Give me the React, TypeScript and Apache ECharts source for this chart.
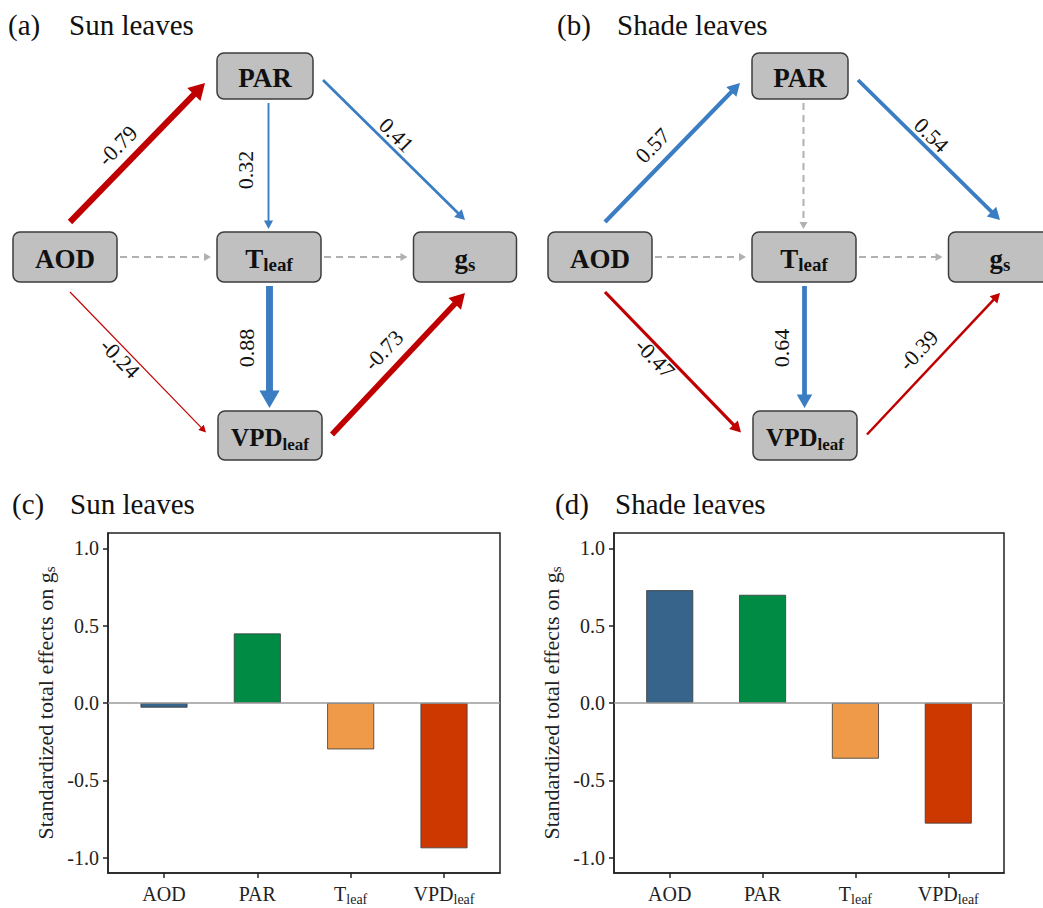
import React, { useEffect, useRef } from "react";
import * as echarts from "echarts";

// ---------------- data ----------------
const nodeIds = ["AOD", "PAR", "Tleaf", "gs", "VPDleaf"];
const edgeFrom = ["AOD", "AOD", "AOD", "PAR", "PAR", "Tleaf", "Tleaf", "VPDleaf"];
const edgeTo = ["PAR", "Tleaf", "VPDleaf", "Tleaf", "gs", "gs", "VPDleaf", "gs"];
// null = non-significant path (dashed grey)
const sunPathCoef: (number | null)[] = [-0.79, null, -0.24, 0.32, 0.41, null, 0.88, -0.73];
const shadePathCoef: (number | null)[] = [0.57, null, -0.47, null, 0.54, null, 0.64, -0.39];

const barCategories = ["AOD", "PAR", "Tleaf", "VPDleaf"];
const sunTotalEffects = [-0.03, 0.45, -0.3, -0.94];
const shadeTotalEffects = [0.73, 0.7, -0.36, -0.78];
const yTickValues = [-1.0, -0.5, 0.0, 0.5, 1.0];
const xTickValues = [1, 2, 3, 4];

const panelLetters = ["(a)", "(b)", "(c)", "(d)"];
const panelTitles = ["Sun leaves", "Shade leaves", "Sun leaves", "Shade leaves"];

// ---------------- styles / layout ----------------
const SERIF = "'Liberation Serif', 'Times New Roman', Times, serif";
const RED = "#c00000";
const BLUE = "#3a7dc2";
const GREY = "#b0b0b0";
const TEXT = "#111111";
const barColors = ["#36648b", "#008b45", "#ee9a49", "#cd3700"];

const NODE_BOX: Record<string, { cx: number; cy: number; w: number; h: number }> = {
  AOD: { cx: 65, cy: 257, w: 104, h: 50 },
  PAR: { cx: 265, cy: 76, w: 96, h: 46 },
  Tleaf: { cx: 269, cy: 257, w: 104, h: 50 },
  gs: { cx: 465, cy: 257, w: 103, h: 50 },
  VPDleaf: { cx: 270, cy: 435.5, w: 104, h: 49 },
};
const NODE_LABEL: Record<string, string> = {
  AOD: "{m|AOD}",
  PAR: "{m|PAR}",
  Tleaf: "{m|T}{s|leaf}",
  gs: "{m|g}{s|s}",
  VPDleaf: "{m2|VPD}{s2|leaf}",
};
const LABEL_SHIFT: Record<string, [number, number]> = {
  "AOD>PAR": [-20, -7],
  "PAR>Tleaf": [-23, 4],
  "PAR>gs": [2.5, -15],
  "AOD>VPDleaf": [-18, -4],
  "Tleaf>VPDleaf": [-23, 1],
  "VPDleaf>gs": [-15, -13.5],
};
const DIAGRAM_X = [0, 535];
const TITLE_POS = [
  { lx: 8, tx: 69, y: 24.5 },
  { lx: 557, tx: 617, y: 24.5 },
  { lx: 12, tx: 70, y: 504 },
  { lx: 555, tx: 615, y: 504 },
];

const nodeRich = {
  m: { fontFamily: SERIF, fontSize: 27, fontWeight: "bold", lineHeight: 30, fill: TEXT, color: TEXT },
  s: { fontFamily: SERIF, fontSize: 19, fontWeight: "bold", lineHeight: 12, verticalAlign: "bottom", fill: TEXT, color: TEXT },
  m2: { fontFamily: SERIF, fontSize: 25, fontWeight: "bold", lineHeight: 30, fill: TEXT, color: TEXT },
  s2: { fontFamily: SERIF, fontSize: 17, fontWeight: "bold", lineHeight: 11, verticalAlign: "bottom", fill: TEXT, color: TEXT },
};
const numRich = {
  n: { fontFamily: SERIF, fontSize: 22, fill: TEXT, color: TEXT, lineHeight: 24 },
};

function edgeGeom(from: string, to: string) {
  const s = NODE_BOX[from];
  const t = NODE_BOX[to];
  let x1: number, y1: number, x2: number, y2: number;
  if (Math.abs(s.cx - t.cx) < 20) {
    x1 = x2 = t.cx - 0.5;
    y1 = s.cy + s.h / 2 + 4;
    y2 = t.cy - t.h / 2 - 3;
  } else if (Math.abs(s.cy - t.cy) < 1) {
    y1 = y2 = s.cy;
    x1 = s.cx + s.w / 2 + 3;
    x2 = t.cx - t.w / 2 - 6;
  } else if (from === "AOD") {
    const up = t.cy < s.cy;
    x1 = s.cx + 5;
    y1 = up ? s.cy - s.h / 2 - 10 : s.cy + s.h / 2 + 10;
    x2 = t.cx - t.w / 2 - 12;
    y2 = t.cy + (up ? 7 : -3);
  } else {
    const down = t.cy > s.cy;
    x1 = s.cx + s.w / 2 + 10;
    y1 = s.cy + (down ? 4 : -1);
    x2 = t.cx;
    y2 = down ? t.cy - t.h / 2 - 12 : t.cy + t.h / 2 + 11;
  }
  return { x1, y1, x2, y2 };
}

function diagramGraphics(coefs: (number | null)[], ox: number) {
  const els: any[] = [];
  edgeFrom.forEach((from, i) => {
    const to = edgeTo[i];
    const c = coefs[i];
    const g = edgeGeom(from, to);
    const x1 = g.x1 + ox, x2 = g.x2 + ox, y1 = g.y1, y2 = g.y2;
    const dx = x2 - x1, dy = y2 - y1;
    const len = Math.hypot(dx, dy);
    const ux = dx / len, uy = dy / len;
    const nx = -uy, ny = ux;
    const sig = c !== null;
    const w = sig ? 9 * Math.abs(c as number) - 1 : 2;
    const color = sig ? ((c as number) < 0 ? RED : BLUE) : GREY;
    const L = sig ? 5 + 1.8 * w : 7;
    const hw = sig ? 2.5 + 1.1 * w : 4;
    const bx = x2 - L * ux, by = y2 - L * uy;
    els.push({
      type: "line",
      shape: { x1, y1, x2: bx + ux, y2: by + uy },
      style: { stroke: color, lineWidth: w, lineDash: sig ? null : [7, 5], lineCap: "butt" },
      z: 1,
    });
    els.push({
      type: "polygon",
      shape: {
        points: [
          [x2, y2],
          [bx + hw * nx, by + hw * ny],
          [bx - hw * nx, by - hw * ny],
        ],
      },
      style: { fill: color, stroke: "none" },
      z: 1,
    });
    if (sig) {
      const sh = LABEL_SHIFT[from + ">" + to] || [0, 0];
      const mx = (x1 + x2) / 2 + sh[0];
      const my = (y1 + y2) / 2 + sh[1];
      const vertical = Math.abs(dx) < 1;
      const rot = vertical ? Math.PI / 2 : -Math.atan2(dy, dx);
      els.push({
        type: "text",
        x: mx,
        y: my,
        rotation: rot,
        style: {
          text: "{n|" + (c as number).toFixed(2) + "}",
          rich: numRich,
          align: "center",
          verticalAlign: "middle",
          fill: TEXT,
        },
        z: 3,
      });
    }
  });
  nodeIds.forEach((id) => {
    const b = NODE_BOX[id];
    els.push({
      type: "rect",
      shape: { x: b.cx - b.w / 2 + ox, y: b.cy - b.h / 2, width: b.w, height: b.h, r: 7 },
      style: { fill: "#c0c0c0", stroke: "#3c3c3c", lineWidth: 1.5 },
      z: 2,
    });
    els.push({
      type: "text",
      x: b.cx + ox,
      y: b.cy + 2,
      style: {
        text: NODE_LABEL[id],
        rich: nodeRich,
        align: "center",
        verticalAlign: "middle",
        fill: TEXT,
      },
      z: 3,
    });
  });
  return els;
}

const axisRich = {
  m: { fontFamily: SERIF, fontSize: 20, lineHeight: 24, color: "#222" },
  s: { fontFamily: SERIF, fontSize: 14, lineHeight: 10, verticalAlign: "bottom", color: "#222" },
};
const yRich = {
  n: { fontFamily: SERIF, fontSize: 20, lineHeight: 22, color: "#222" },
};
function xLabel(v: number) {
  const c = barCategories[Math.round(v) - 1];
  if (c === "Tleaf") return "{m|T}{s|leaf}";
  if (c === "VPDleaf") return "{m|VPD}{s|leaf}";
  return "{m|" + c + "}";
}

export default function App() {
  const ref = useRef<HTMLDivElement>(null);
  useEffect(() => {
    if (!ref.current) return;
    const chart = echarts.init(ref.current, null, { renderer: "svg", width: 1043, height: 908 });

    const titles: any[] = [];
    TITLE_POS.forEach((p, i) => {
      titles.push({
        type: "text",
        x: p.lx,
        y: p.y,
        style: { text: panelLetters[i], fontFamily: SERIF, fontSize: 29, fill: TEXT, verticalAlign: "middle" },
      });
      titles.push({
        type: "text",
        x: p.tx,
        y: p.y,
        style: { text: panelTitles[i], fontFamily: SERIF, fontSize: 29, fill: TEXT, verticalAlign: "middle" },
      });
    });

    const grids = [
      { left: 108, top: 533, width: 392, height: 340 },
      { left: 614, top: 533, width: 390, height: 340 },
    ];
    const totals = [sunTotalEffects, shadeTotalEffects];

    const option: any = {
      animation: false,
      backgroundColor: "#ffffff",
      grid: grids.map((g) => ({
        ...g,
        show: true,
        borderColor: "#222",
        borderWidth: 1.5,
        backgroundColor: "transparent",
        containLabel: false,
      })),
      xAxis: grids.map((_, i) => ({
        type: "value",
        gridIndex: i,
        min: 0.4,
        max: 4.6,
        position: "bottom",
        splitLine: { show: false },
        axisLine: { show: true, onZero: false, lineStyle: { color: "#222", width: 1.5 } },
        axisTick: { show: true, customValues: xTickValues, length: 5, lineStyle: { color: "#222", width: 1.5 } },
        axisLabel: {
          customValues: xTickValues,
          formatter: (v: number) => xLabel(v),
          rich: axisRich,
          margin: 9,
          color: "#222",
        },
      })),
      yAxis: grids.map((_, i) => ({
        type: "value",
        gridIndex: i,
        min: -1.1,
        max: 1.1,
        position: "left",
        splitLine: { show: false },
        axisLine: { show: true, onZero: false, lineStyle: { color: "#222", width: 1.5 } },
        axisTick: { show: true, customValues: yTickValues, length: 5, lineStyle: { color: "#222", width: 1.5 } },
        axisLabel: {
          customValues: yTickValues,
          formatter: (v: number) => "{n|" + v.toFixed(1) + "}",
          rich: yRich,
          color: "#222",
          margin: 9,
        },
        name: "Standardized total effects on g{s|s}",
        nameLocation: "middle",
        nameRotate: 90,
        nameGap: 51,
        nameTextStyle: {
          fontFamily: SERIF,
          fontSize: 22,
          lineHeight: 24,
          color: "#222",
          rich: {
            s: { fontFamily: SERIF, fontSize: 15, lineHeight: 10, verticalAlign: "bottom", color: "#222" },
          },
        },
      })),
      series: grids.map((_, i) => ({
        type: "bar",
        xAxisIndex: i,
        yAxisIndex: i,
        barWidth: 47,
        data: barCategories.map((c, k) => ({
          value: [k + 1, totals[i][k]],
          itemStyle: { color: barColors[k], borderColor: "#3a3a3a", borderWidth: 0.8 },
        })),
        markLine: {
          silent: true,
          symbol: ["none", "none"],
          label: { show: false },
          lineStyle: { color: "#9a9a9a", width: 1.5, type: "solid" },
          data: [{ yAxis: 0 }],
        },
      })),
      graphic: [
        ...titles,
        ...diagramGraphics(sunPathCoef, DIAGRAM_X[0]),
        ...diagramGraphics(shadePathCoef, DIAGRAM_X[1]),
      ],
    };
    chart.setOption(option);
    return () => chart.dispose();
  }, []);
  return (
    <div
      ref={ref}
      style={{ position: "absolute", left: 0, top: 0, width: 1043, height: 908, background: "#fff" }}
    />
  );
}
